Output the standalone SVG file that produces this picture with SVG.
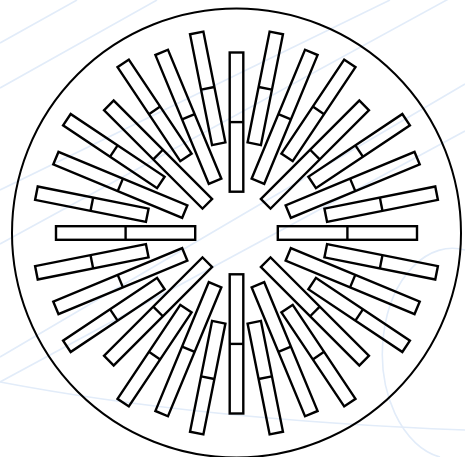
<svg xmlns="http://www.w3.org/2000/svg" width="465" height="457" viewBox="0 0 465 457">
<style>
.bg{fill:none;stroke:#e2ecf9;stroke-width:1.6}
.ring{fill:none;stroke:#000;stroke-width:2}
</style>
<defs>
<g id="A" fill="none" stroke="#000" stroke-width="2.4"><rect x="-6.8" y="-180.5" width="13.6" height="139.2"/><line x1="-6.8" y1="-110.9" x2="6.8" y2="-110.9"/></g>
<g id="B" fill="none" stroke="#000" stroke-width="2.4"><rect x="-6.8" y="-204" width="13.6" height="113"/><line x1="-6.8" y1="-147.5" x2="6.8" y2="-147.5"/></g>
<g id="C" fill="none" stroke="#000" stroke-width="2.4"><rect x="-6.8" y="-195.5" width="13.6" height="139.5"/><line x1="-6.8" y1="-125.75" x2="6.8" y2="-125.75"/></g>
</defs>
<g id="background">
<line class="bg" x1="0" y1="43" x2="77" y2="0"/>
<line class="bg" x1="0" y1="88" x2="157" y2="0"/>
<line class="bg" x1="0" y1="190" x2="390" y2="0"/>
<line class="bg" x1="0" y1="244" x2="465" y2="-10"/>
<line class="bg" x1="0" y1="357" x2="465" y2="84"/>
<line class="bg" x1="0" y1="382" x2="465" y2="131"/>
<path class="bg" d="M0 382 Q200 420 465 430"/>
<path class="bg" d="M465 250 A60 90 0 0 0 440 457"/>
</g>
<g id="ring"><circle class="ring" cx="236.5" cy="233" r="224.5"/></g>
<g id="bars">
<g id="bar-0"><use href="#A" transform="translate(236.5 233) rotate(0)"/></g>
<g id="bar-1"><use href="#B" transform="translate(236.5 233) rotate(11.25)"/></g>
<g id="bar-2"><use href="#C" transform="translate(236.5 233) rotate(22.5)"/></g>
<g id="bar-3"><use href="#B" transform="translate(236.5 233) rotate(33.75)"/></g>
<g id="bar-4"><use href="#A" transform="translate(236.5 233) rotate(45)"/></g>
<g id="bar-5"><use href="#B" transform="translate(236.5 233) rotate(56.25)"/></g>
<g id="bar-6"><use href="#C" transform="translate(236.5 233) rotate(67.5)"/></g>
<g id="bar-7"><use href="#B" transform="translate(236.5 233) rotate(78.75)"/></g>
<g id="bar-8"><use href="#A" transform="translate(236.5 233) rotate(90)"/></g>
<g id="bar-9"><use href="#B" transform="translate(236.5 233) rotate(101.25)"/></g>
<g id="bar-10"><use href="#C" transform="translate(236.5 233) rotate(112.5)"/></g>
<g id="bar-11"><use href="#B" transform="translate(236.5 233) rotate(123.75)"/></g>
<g id="bar-12"><use href="#A" transform="translate(236.5 233) rotate(135)"/></g>
<g id="bar-13"><use href="#B" transform="translate(236.5 233) rotate(146.25)"/></g>
<g id="bar-14"><use href="#C" transform="translate(236.5 233) rotate(157.5)"/></g>
<g id="bar-15"><use href="#B" transform="translate(236.5 233) rotate(168.75)"/></g>
<g id="bar-16"><use href="#A" transform="translate(236.5 233) rotate(180)"/></g>
<g id="bar-17"><use href="#B" transform="translate(236.5 233) rotate(191.25)"/></g>
<g id="bar-18"><use href="#C" transform="translate(236.5 233) rotate(202.5)"/></g>
<g id="bar-19"><use href="#B" transform="translate(236.5 233) rotate(213.75)"/></g>
<g id="bar-20"><use href="#A" transform="translate(236.5 233) rotate(225)"/></g>
<g id="bar-21"><use href="#B" transform="translate(236.5 233) rotate(236.25)"/></g>
<g id="bar-22"><use href="#C" transform="translate(236.5 233) rotate(247.5)"/></g>
<g id="bar-23"><use href="#B" transform="translate(236.5 233) rotate(258.75)"/></g>
<g id="bar-24"><use href="#A" transform="translate(236.5 233) rotate(270)"/></g>
<g id="bar-25"><use href="#B" transform="translate(236.5 233) rotate(281.25)"/></g>
<g id="bar-26"><use href="#C" transform="translate(236.5 233) rotate(292.5)"/></g>
<g id="bar-27"><use href="#B" transform="translate(236.5 233) rotate(303.75)"/></g>
<g id="bar-28"><use href="#A" transform="translate(236.5 233) rotate(315)"/></g>
<g id="bar-29"><use href="#B" transform="translate(236.5 233) rotate(326.25)"/></g>
<g id="bar-30"><use href="#C" transform="translate(236.5 233) rotate(337.5)"/></g>
<g id="bar-31"><use href="#B" transform="translate(236.5 233) rotate(348.75)"/></g>
</g>
</svg>
